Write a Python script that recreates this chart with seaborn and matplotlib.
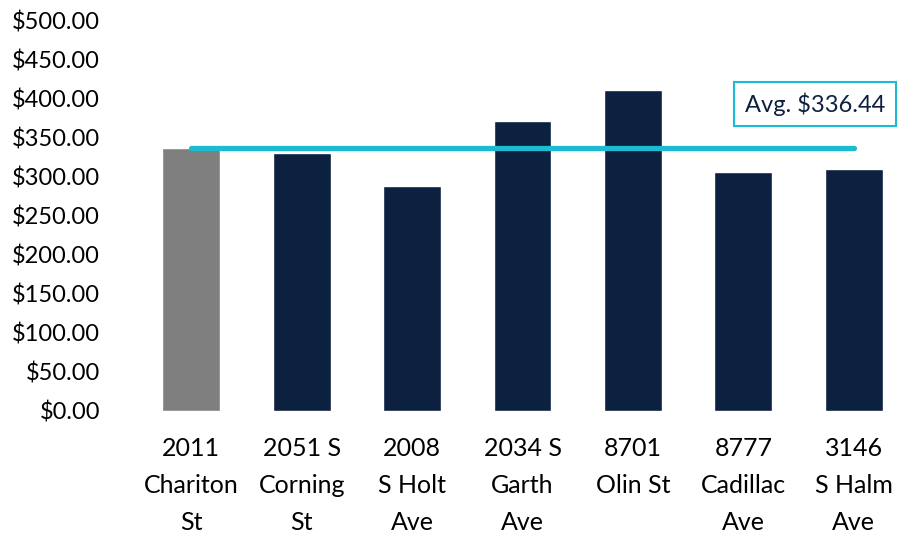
import matplotlib
matplotlib.use("Agg")
import matplotlib.pyplot as plt
import seaborn as sns
import pandas as pd
from matplotlib.ticker import FuncFormatter

categories = ["2011\nChariton\nSt", "2051 S\nCorning\nSt", "2008\nS Holt\nAve",
              "2034 S\nGarth\nAve", "8701\nOlin St", "8777\nCadillac\nAve", "3146\nS Halm\nAve"]
values = [336.3, 330.0, 288.0, 370.8, 410.5, 305.8, 309.8]
groups = ["subject", "comp", "comp", "comp", "comp", "comp", "comp"]
average = 336.44
avg_label = "Avg. $336.44"

NAVY = "#0C2040"
GRAY = "#7F7F7F"
CYAN = "#1BBCD2"

sns.set_theme(style="white")
plt.rcParams["font.family"] = ["Lato", "DejaVu Sans"]

df = pd.DataFrame({"cat": categories, "val": values, "grp": groups})

fig = plt.figure(figsize=(9, 5.36), dpi=100)
ax = fig.add_axes([136/900, (536-411)/536, 773/900, (411-20)/536])
sns.barplot(data=df, x="cat", y="val", hue="grp", palette={"subject": GRAY, "comp": NAVY},
            dodge=False, width=0.525, legend=False, ax=ax, saturation=1)

ax.plot([0, len(categories)-1], [average, average], color=CYAN, lw=3.8,
        solid_capstyle="round", zorder=5)

ax.set_ylim(0, 500)
ax.set_xlim(-0.5, len(categories)-0.5)
ax.set_yticks(range(0, 501, 50))
ax.yaxis.set_major_formatter(FuncFormatter(lambda v, p: f"${v:,.2f}"))
ax.set_xlabel("")
ax.set_ylabel("")
for s in ax.spines.values():
    s.set_visible(False)
ax.tick_params(axis="y", labelsize=17, pad=26, length=0, labelcolor="black")
ax.tick_params(axis="x", labelsize=18, pad=19, length=0, labelcolor="black")
for t in ax.get_xticklabels():
    t.set_linespacing(1.72)

fig.text(815/900, 1-104/536, avg_label, ha="center", va="center", fontsize=17, color=NAVY,
         bbox=dict(boxstyle="square,pad=0.45", fc="white", ec=CYAN, lw=1.5))

fig.savefig("out.png", dpi=100)
